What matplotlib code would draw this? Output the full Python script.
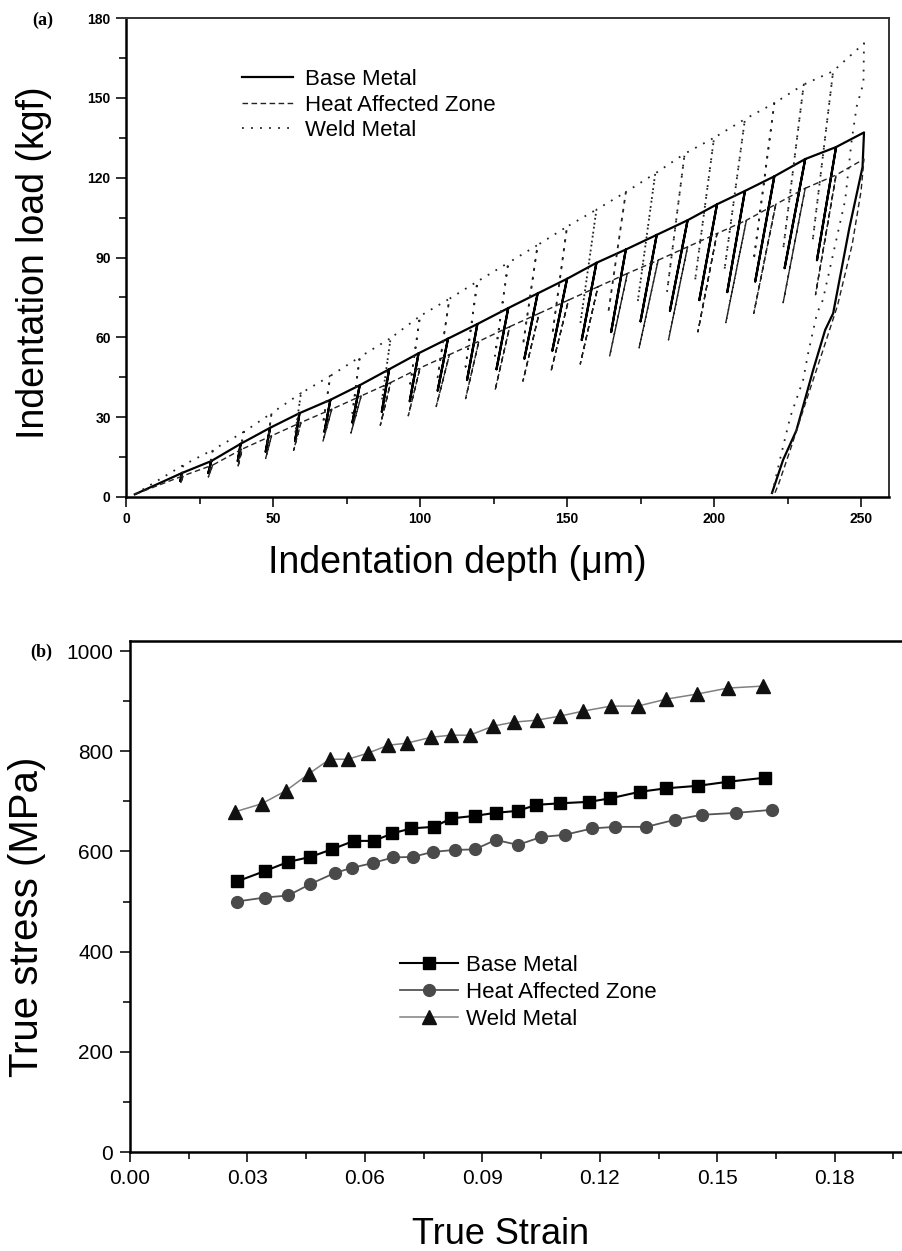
import matplotlib
matplotlib.use('Agg')
import matplotlib.pyplot as plt
from matplotlib.ticker import MultipleLocator, FormatStrFormatter
import numpy as np

# ---- (a) cyclic indentation: peaks, unload bottoms, final unloading ----
start = (3.0, 1.0)

bm_pk_d = [19, 29, 39, 49, 59, 69.5, 79.5, 89.5, 99.5, 109.5, 119.5, 130,
           140, 150, 160, 170, 180.5, 191, 201, 210.5, 220.5, 231, 241.5]
bm_pk_L = [9, 13.5, 20, 26, 31.5, 36.5, 42, 48, 54, 59.5, 65, 71,
           76.5, 82, 88, 93, 98.5, 104, 110, 115, 120.5, 127, 131.5]
bm_bt_d = [18.5, 28, 38, 47.5, 57.5, 67.5, 77, 87, 96.5, 106, 116, 126,
           135.5, 145, 155, 165, 175, 185, 195, 204.5, 214, 224, 235]
bm_bt_L = [6, 9, 13.5, 17, 21, 24.5, 28, 32, 36, 40, 44, 48,
           52, 55, 59, 62, 66, 70, 74, 77, 81, 86, 89]
bm_fin_d = [251, 250.5, 246, 240.5, 237.8, 233.7, 228, 223.5, 219.7]
bm_fin_L = [137, 124, 101, 69, 62.8, 47.7, 25, 14, 1.5]

haz_pk_d = [19.5, 29.5, 39.5, 49.5, 59.5, 70, 80, 90, 100, 110, 120, 130.5,
            140.5, 150.5, 160.5, 170.5, 181, 191, 201, 211, 221, 231, 241.5]
haz_pk_L = [8, 12, 18, 23, 28, 33, 38, 43, 48.5, 53.5, 58.5, 64,
            69, 74, 79, 84, 89, 94, 99, 104, 110, 116, 121]
haz_bt_d = [18.5, 28, 38, 47.5, 57, 67, 76.5, 86.5, 96, 105.5, 115.5, 125.5,
            135, 144.5, 154.5, 164.5, 174.5, 184.5, 194.5, 204, 213.5, 223.5, 234.5]
haz_bt_L = [5, 7.5, 11, 14.5, 17.5, 21, 24, 27, 30.5, 34, 37, 40,
            43.5, 47, 50, 53, 56, 59, 62, 65.5, 69, 73, 76]
haz_fin_d = [251, 250, 247, 242, 237, 231, 226, 222, 220.5]
haz_fin_L = [127, 115, 95, 72, 55, 35, 18, 5, 1]

wm_pk_d = [19.5, 29.5, 40, 49.5, 59.5, 69.5, 79.5, 90, 100, 110, 119.5, 130,
           140, 150, 160, 170, 180, 190, 200, 210.5, 220.5, 230.5, 240.5]
wm_pk_L = [12, 17.7, 24.4, 31.5, 39, 45.5, 52.6, 59.7, 68, 74.5, 81, 88,
           94.7, 101.6, 108, 114.6, 121.6, 129, 135, 142, 148, 155, 160]
wm_bt_d = [19, 28.5, 38.5, 48, 57.5, 67, 77, 87, 96.5, 106, 115.5, 125.5,
           135, 145, 154.5, 164, 174, 184, 193.5, 203.5, 213.5, 223.5, 233.5]
wm_bt_L = [7, 10.5, 14.5, 19, 23.5, 27.5, 31.5, 36, 41, 45, 49, 53,
           57, 61, 65, 69, 73, 77, 81, 85, 89, 93, 96]
wm_fin_d = [251, 250.8, 248.5, 246.8, 244.6, 237, 235, 232, 230.3, 225.9, 222.4, 219.7]
wm_fin_L = [170.5, 155.6, 146.7, 134, 111.6, 74, 69, 54, 44, 30, 14, 1]

# ---- (b) true stress-strain ----
bm_eps = [0.0273, 0.0345, 0.0404, 0.0461, 0.0515, 0.0572, 0.0623, 0.067, 0.0719,
          0.0776, 0.0821, 0.0881, 0.0934, 0.0991, 0.1038, 0.1098, 0.1173, 0.1227,
          0.1302, 0.137, 0.1451, 0.1527, 0.1621]
bm_sig = [540, 561, 579, 589, 604, 621, 621, 636, 646,
          649, 666, 671, 677, 681, 693, 696, 699, 706,
          719, 726, 731, 739, 747]
haz_eps = [0.0273, 0.0345, 0.0404, 0.0461, 0.0523, 0.0566, 0.0621, 0.0672, 0.0722,
           0.0773, 0.083, 0.0881, 0.0934, 0.0991, 0.1051, 0.111, 0.1181, 0.124,
           0.1319, 0.1391, 0.146, 0.1549, 0.164]
haz_sig = [500, 508, 512, 535, 557, 567, 577, 588, 589,
           599, 603, 604, 623, 613, 629, 633, 646, 649,
           649, 663, 673, 677, 683]
wm_eps = [0.0268, 0.0336, 0.0398, 0.0457, 0.051, 0.0557, 0.0607, 0.066, 0.0707,
          0.077, 0.082, 0.0868, 0.0927, 0.098, 0.1039, 0.1098, 0.1157, 0.1228,
          0.1297, 0.137, 0.1448, 0.1527, 0.1616]
wm_sig = [679, 695, 721, 755, 784, 784, 796, 812, 816,
          828, 832, 832, 850, 858, 862, 870, 880, 890,
          890, 904, 914, 926, 930]

labels = ['Base Metal', 'Heat Affected Zone', 'Weld Metal']


def cycle_path(pk_d, pk_L, bt_d, bt_L, fin_d, fin_L):
    xs, ys = [start[0]], [start[1]]
    for pd_, pl, bd, bl in zip(pk_d, pk_L, bt_d, bt_L):
        xs += [pd_, bd, pd_]
        ys += [pl, bl, pl]
    xs += list(fin_d)
    ys += list(fin_L)
    return np.array(xs), np.array(ys)


arial = ['Liberation Sans', 'DejaVu Sans']

fig = plt.figure(figsize=(9.03, 12.51), dpi=100)

# ---------------- panel (a) ----------------
ax1 = fig.add_axes([126/903, 1-497/1251, 763/903, 479/1251])
x, y = cycle_path(bm_pk_d, bm_pk_L, bm_bt_d, bm_bt_L, bm_fin_d, bm_fin_L)
ax1.plot(x, y, c='k', lw=1.6, ls='-', label=labels[0])
x, y = cycle_path(haz_pk_d, haz_pk_L, haz_bt_d, haz_bt_L, haz_fin_d, haz_fin_L)
ax1.plot(x, y, c='#222222', lw=1.0, ls=(0, (4, 2.5)), label=labels[1])
x, y = cycle_path(wm_pk_d, wm_pk_L, wm_bt_d, wm_bt_L, wm_fin_d, wm_fin_L)
ax1.plot(x, y, c='#222222', lw=1.3, ls=(0, (1, 4)), label=labels[2])

ax1.set_xlim(0, 259.5)
ax1.set_ylim(0, 180)
ax1.xaxis.set_major_locator(MultipleLocator(50))
ax1.xaxis.set_minor_locator(MultipleLocator(25))
ax1.yaxis.set_major_locator(MultipleLocator(30))
ax1.yaxis.set_minor_locator(MultipleLocator(15))
ax1.tick_params(which='both', direction='out', width=1.3, color='#222222')
ax1.tick_params(which='major', length=7, pad=4)
ax1.tick_params(which='minor', length=5)
for lab in ax1.get_xticklabels() + ax1.get_yticklabels():
    lab.set_family(arial)
    lab.set_fontweight('bold')
    lab.set_fontsize(10)
for s in ['left', 'bottom']:
    ax1.spines[s].set_linewidth(1.8)
for s in ['top', 'right']:
    ax1.spines[s].set_linewidth(1.4)
    ax1.spines[s].set_color('#333333')
ax1.set_xlabel('Indentation depth (\u03bcm)', family=arial, fontsize=27)
ax1.xaxis.set_label_coords(0.434, -0.1)
ax1.set_ylabel('Indentation load (kgf)', family=arial, fontsize=27)
ax1.yaxis.set_label_coords(-0.097, 0.49)
ax1.legend(loc='upper left', bbox_to_anchor=(0.152, 0.893), frameon=False,
           borderpad=0, borderaxespad=0, handlelength=2.3,
           handletextpad=0.55, labelspacing=0.2,
           prop={'family': arial, 'size': 16})
fig.text(32/903, 1-20/1251, '(a)', family='Liberation Serif', fontweight='bold',
         fontsize=13, ha='left', va='center')

# ---------------- panel (b) ----------------
ax2 = fig.add_axes([130/903, 1-1152/1251, 783/903, 511/1251])
ax2.plot(bm_eps, bm_sig, c='k', lw=1.5, marker='s', ms=8.5, mfc='k', mec='k',
         label=labels[0])
ax2.plot(haz_eps, haz_sig, c='#555555', lw=1.3, marker='o', ms=8.5,
         mfc='#4a4a4a', mec='#4a4a4a', label=labels[1])
ax2.plot(wm_eps, wm_sig, c='#808080', lw=1.1, marker='^', ms=9.5,
         mfc='#111111', mec='#111111', label=labels[2])

ax2.set_xlim(0, 0.2)
ax2.set_ylim(0, 1020)
ax2.xaxis.set_major_locator(MultipleLocator(0.03))
ax2.xaxis.set_minor_locator(MultipleLocator(0.015))
ax2.xaxis.set_major_formatter(FormatStrFormatter('%.2f'))
ax2.yaxis.set_major_locator(MultipleLocator(200))
ax2.yaxis.set_minor_locator(MultipleLocator(100))
ax2.tick_params(which='both', direction='out', width=1.3, color='#222222')
ax2.tick_params(which='major', length=7, pad=5)
ax2.tick_params(which='minor', length=5)
for lab in ax2.get_xticklabels() + ax2.get_yticklabels():
    lab.set_family(arial)
    lab.set_fontsize(15)
for s in ax2.spines.values():
    s.set_linewidth(1.8)
ax2.set_xlabel('True Strain', family=arial, fontsize=26)
ax2.xaxis.set_label_coords((501-130)/783, -0.128)
ax2.set_ylabel('True stress (MPa)', family=arial, fontsize=29)
ax2.yaxis.set_label_coords(-0.107, 0.46)
ax2.legend(loc='upper left', bbox_to_anchor=(0.345, 0.386), frameon=False,
           borderpad=0, borderaxespad=0, handlelength=2.6,
           handletextpad=0.36, labelspacing=0.28,
           prop={'family': arial, 'size': 16})
fig.text(30/903, 1-652/1251, '(b)', family='Liberation Serif', fontweight='bold',
         fontsize=13, ha='left', va='center')

fig.savefig('out.png', dpi=100)
